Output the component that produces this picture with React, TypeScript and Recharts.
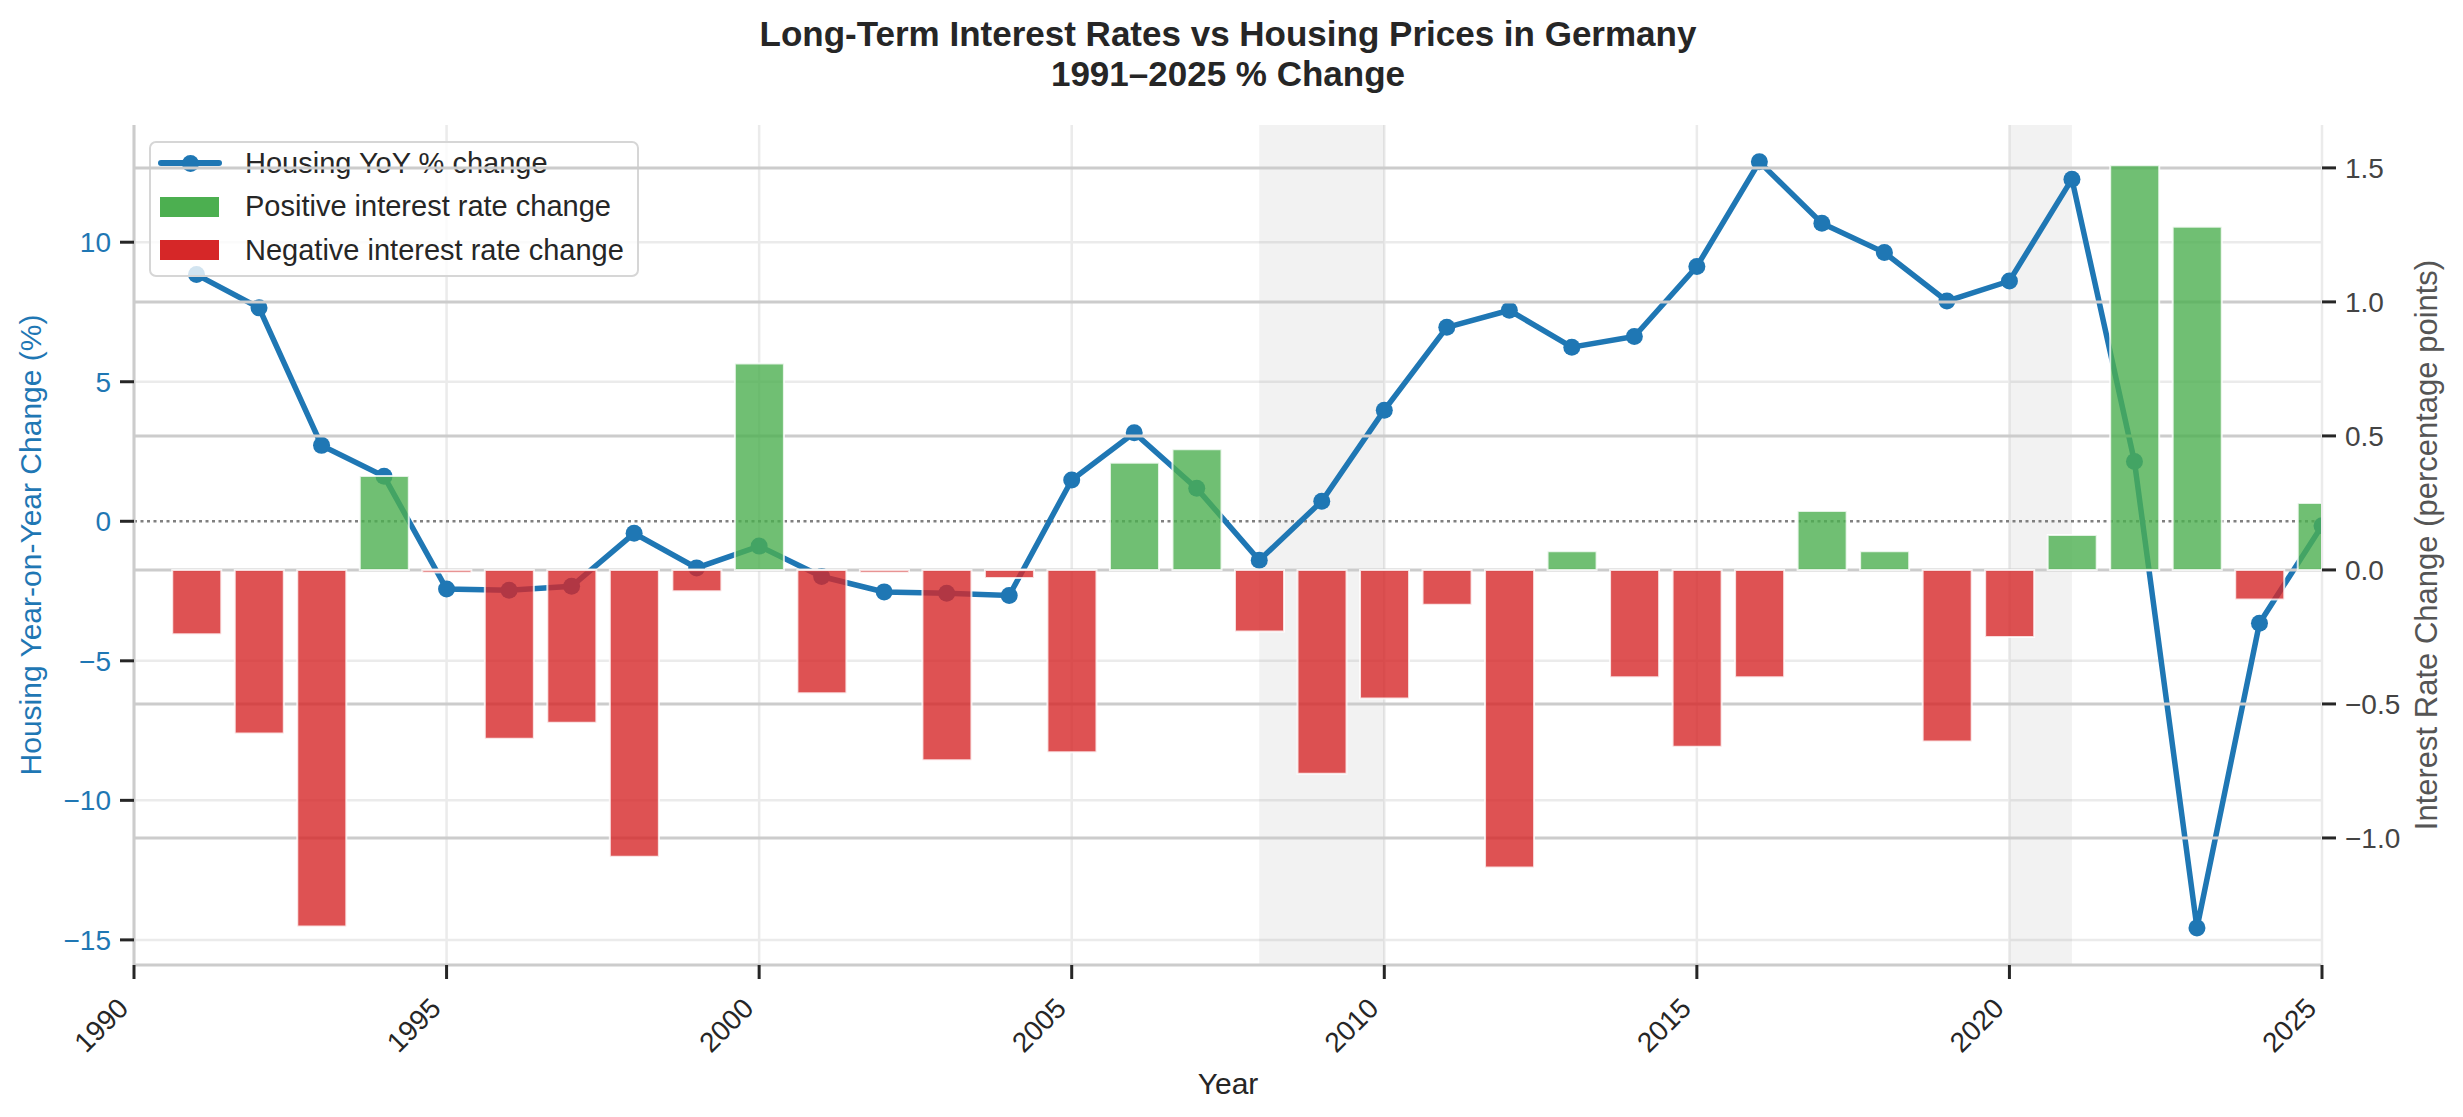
import {
  ComposedChart,
  Line,
  Bar,
  Cell,
  XAxis,
  YAxis,
  CartesianGrid,
  ReferenceArea,
  ReferenceLine,
} from "recharts";

// values
const YEARS = [
  1991, 1992, 1993, 1994, 1995, 1996, 1997, 1998, 1999, 2000, 2001, 2002,
  2003, 2004, 2005, 2006, 2007, 2008, 2009, 2010, 2011, 2012, 2013, 2014,
  2015, 2016, 2017, 2018, 2019, 2020, 2021, 2022, 2023, 2024, 2025,
];
const HOUSING_YOY = [
  8.84, 7.65, 2.72, 1.61, -2.43, -2.47, -2.33, -0.43, -1.67, -0.89, -1.98,
  -2.53, -2.58, -2.66, 1.48, 3.17, 1.18, -1.4, 0.72, 3.98, 6.95, 7.56, 6.24,
  6.62, 9.13, 12.88, 10.68, 9.63, 7.89, 8.61, 12.26, 2.14, -14.57, -3.65,
  -0.16,
];
const RATE_CHANGE = [
  -0.24, -0.61, -1.33, 0.35, -0.01, -0.63, -0.57, -1.07, -0.08, 0.77, -0.46,
  -0.01, -0.71, -0.03, -0.68, 0.4, 0.45, -0.23, -0.76, -0.48, -0.13, -1.11,
  0.07, -0.4, -0.66, -0.4, 0.22, 0.07, -0.64, -0.25, 0.13, 1.51, 1.28, -0.11,
  0.25,
];
const SHADED_PERIODS = [
  [2008, 2010],
  [2020, 2021],
];
const X_TICKS = [1990, 1995, 2000, 2005, 2010, 2015, 2020, 2025];
const LEFT_TICKS = [-15, -10, -5, 0, 5, 10];
const RIGHT_TICKS = [-1.0, -0.5, 0.0, 0.5, 1.0, 1.5];
const LEGEND_LABELS = [
  "Housing YoY % change",
  "Positive interest rate change",
  "Negative interest rate change",
];

const W = 2463;
const H = 1117;
const FONT = '"Liberation Sans", Arial, Helvetica, sans-serif';
const BLUE = "#1f77b4";
const GREEN = "#4caf50";
const RED = "#d62728";
const TEXT = "#262626";
const MARGIN = { top: 125, right: 41, bottom: 52, left: 34 };

const data = YEARS.map((year, i) => ({
  year,
  housing: HOUSING_YOY[i],
  rate: RATE_CHANGE[i],
}));

const minus = (s: string) => s.replace("-", "\u2212");
const fmtLeft = (v: number) => minus(String(v));
const fmtRight = (v: number) => minus(v.toFixed(1));

function XTick({ x, y, payload }: any) {
  return (
    <g transform={`translate(${x - 4},${y + 24})`}>
      <text
        transform="rotate(-45)"
        textAnchor="end"
        fill={TEXT}
        fontSize={28}
        fontFamily={FONT}
      >
        {payload.value}
      </text>
    </g>
  );
}

function LegendBox() {
  return (
    <div
      style={{
        position: "absolute",
        left: 149,
        top: 141,
        width: 490,
        height: 136,
        boxSizing: "border-box",
        border: "2.5px solid #d6d6d6",
        borderRadius: 7,
        background: "rgba(255,255,255,0.8)",
        fontFamily: FONT,
        fontSize: 29,
        color: TEXT,
      }}
    >
      {LEGEND_LABELS.map((label, i) => (
        <div
          key={label}
          style={{
            position: "absolute",
            left: 0,
            top: i * 43.5,
            height: 40,
            width: "100%",
            display: "flex",
            alignItems: "center",
          }}
        >
          <div style={{ position: "relative", width: 94, height: 40 }}>
            {i === 0 ? (
              <>
                <div
                  style={{
                    position: "absolute",
                    left: 7,
                    top: 17,
                    width: 64,
                    height: 6,
                    borderRadius: 3,
                    background: BLUE,
                  }}
                />
                <div
                  style={{
                    position: "absolute",
                    left: 30.5,
                    top: 11.5,
                    width: 17,
                    height: 17,
                    borderRadius: 9,
                    background: BLUE,
                  }}
                />
              </>
            ) : (
              <div
                style={{
                  position: "absolute",
                  left: 9,
                  top: 10,
                  width: 59,
                  height: 20,
                  background: i === 1 ? GREEN : RED,
                }}
              />
            )}
          </div>
          <span style={{ whiteSpace: "nowrap" }}>{label}</span>
        </div>
      ))}
    </div>
  );
}

const layer: React.CSSProperties = { position: "absolute", left: 0, top: 0 };

export default function App() {
  return (
    <div
      style={{
        position: "absolute",
        left: 0,
        top: 0,
        width: W,
        height: H,
        background: "#fff",
        overflow: "hidden",
        fontFamily: FONT,
      }}
    >
      {/* lower layer: housing line, light grid, shading */}
      <div style={{ ...layer, zIndex: 0 }}>
        <ComposedChart width={W} height={H} data={data} margin={MARGIN}>
          <CartesianGrid
            yAxisId="left"
            stroke="#ebebeb"
            strokeWidth={2.5}
            horizontalValues={LEFT_TICKS.filter((t) => t !== 0)}
            verticalValues={X_TICKS}
          />
          <XAxis
            dataKey="year"
            type="number"
            domain={[1990, 2025]}
            ticks={X_TICKS}
            allowDataOverflow
            height={100}
            tick={<XTick />}
            tickSize={14}
            tickMargin={7}
            tickLine={{ stroke: "#262626", strokeWidth: 3 }}
            axisLine={{ stroke: "#cccccc", strokeWidth: 3 }}
          />
          <YAxis
            yAxisId="left"
            orientation="left"
            width={100}
            domain={[-15.9, 14.2]}
            ticks={LEFT_TICKS}
            allowDataOverflow
            tickFormatter={fmtLeft}
            tick={{ fill: BLUE, fontSize: 28, fontFamily: FONT }}
            tickSize={14}
            tickMargin={9}
            tickLine={{ stroke: "#262626", strokeWidth: 3 }}
            axisLine={{ stroke: "#cccccc", strokeWidth: 3 }}
          />
          <YAxis
            yAxisId="right"
            orientation="right"
            width={100}
            domain={[-1.474, 1.66]}
            tick={false}
            tickLine={false}
            axisLine={false}
          />
          {SHADED_PERIODS.map(([a, b]) => (
            <ReferenceArea
              key={a}
              yAxisId="left"
              x1={a}
              x2={b}
              fill="#808080"
              fillOpacity={0.1}
              stroke="none"
            />
          ))}
          <ReferenceLine
            yAxisId="left"
            y={0}
            stroke="#808080"
            strokeWidth={2.5}
            strokeDasharray="3 3.5"
          />
          <Line
            yAxisId="left"
            dataKey="housing"
            stroke={BLUE}
            strokeWidth={5.5}
            dot={{ r: 8.5, fill: BLUE, stroke: "none" }}
            isAnimationActive={false}
          />
        </ComposedChart>
      </div>

      <div style={{ zIndex: 1, position: "absolute", left: 0, top: 0 }}>
        <LegendBox />
      </div>

      {/* upper layer: interest-rate bars on the twin axis */}
      <div style={{ ...layer, zIndex: 2 }}>
        <ComposedChart width={W} height={H} data={data} margin={MARGIN}>
          <CartesianGrid
            yAxisId="right"
            stroke="#cccccc"
            strokeWidth={3}
            vertical={false}
            horizontalValues={RIGHT_TICKS}
          />
          <XAxis
            dataKey="year"
            type="number"
            domain={[1990, 2025]}
            ticks={X_TICKS}
            allowDataOverflow
            height={100}
            tick={false}
            tickLine={false}
            axisLine={false}
          />
          <YAxis
            yAxisId="left"
            orientation="left"
            width={100}
            domain={[-15.9, 14.2]}
            tick={false}
            tickLine={false}
            axisLine={false}
          />
          <YAxis
            yAxisId="right"
            orientation="right"
            width={100}
            domain={[-1.474, 1.66]}
            ticks={RIGHT_TICKS}
            allowDataOverflow
            tickFormatter={fmtRight}
            tick={{ fill: "#444444", fontSize: 28, fontFamily: FONT }}
            tickSize={14}
            tickMargin={9}
            tickLine={{ stroke: "#262626", strokeWidth: 3 }}
            axisLine={{ stroke: "#ebebeb", strokeWidth: 2 }}
          />
          <Bar
            yAxisId="right"
            dataKey="rate"
            barSize={49}
            stroke="#ffffff"
            strokeWidth={2}
            isAnimationActive={false}
          >
            {data.map((d) => (
              <Cell
                key={d.year}
                fill={d.rate >= 0 ? GREEN : RED}
                fillOpacity={0.8}
                strokeOpacity={0.8}
              />
            ))}
          </Bar>
        </ComposedChart>
      </div>

      {/* titles */}
      <div
        style={{
          position: "absolute",
          left: 0,
          top: 14,
          width: 2456,
          textAlign: "center",
          fontSize: 35,
          fontWeight: "bold",
          lineHeight: "40px",
          color: TEXT,
          zIndex: 3,
        }}
      >
        <div>Long-Term Interest Rates vs Housing Prices in Germany</div>
        <div>1991–2025 % Change</div>
      </div>
      <div
        style={{
          position: "absolute",
          left: 31,
          top: 545,
          transform: "translate(-50%, -50%) rotate(-90deg)",
          whiteSpace: "nowrap",
          fontSize: 30,
          color: BLUE,
          zIndex: 3,
        }}
      >
        Housing Year-on-Year Change (%)
      </div>
      <div
        style={{
          position: "absolute",
          left: 2427,
          top: 545,
          transform: "translate(-50%, -50%) rotate(-90deg)",
          whiteSpace: "nowrap",
          fontSize: 31,
          color: "#555555",
          zIndex: 3,
        }}
      >
        Interest Rate Change (percentage points)
      </div>
      <div
        style={{
          position: "absolute",
          left: 1228,
          top: 1084,
          transform: "translate(-50%, -50%)",
          whiteSpace: "nowrap",
          fontSize: 30,
          color: TEXT,
          zIndex: 3,
        }}
      >
        Year
      </div>
    </div>
  );
}
